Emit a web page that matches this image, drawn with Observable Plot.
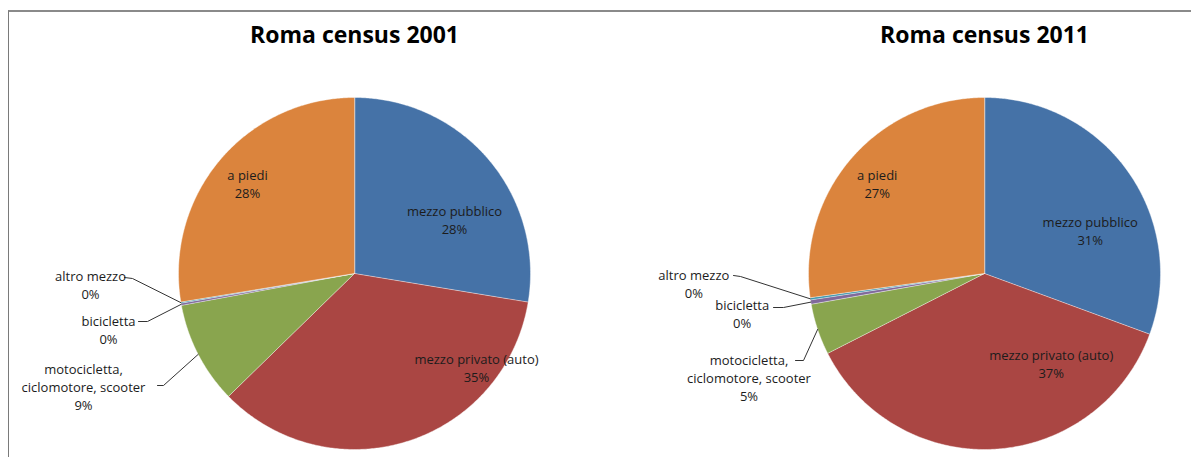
<!DOCTYPE html>
<html><head><meta charset="utf-8">
<script src="https://cdn.jsdelivr.net/npm/d3@7"></script>
<script src="https://cdn.jsdelivr.net/npm/@observablehq/plot@0.6"></script>
<style>
body{margin:0;background:#fff;}
#wrap{position:relative;width:1191px;height:457px;overflow:hidden;background:#fff;}
#box{position:absolute;left:8px;top:10px;width:1300px;height:600px;border-left:1px solid #7a7a7a;border-top:2px solid #8a8a8a;}
#chart{position:absolute;left:0;top:0;}
</style></head><body>
<div id="wrap"><div id="box"></div><div id="chart"></div></div>
<script>
// ---- data ----
const categories = ["mezzo pubblico","mezzo privato (auto)","motocicletta, ciclomotore, scooter","bicicletta","altro mezzo","a piedi"];
const labelNames = ["mezzo pubblico","mezzo privato (auto)","motocicletta,\nciclomotore, scooter","bicicletta","altro mezzo","a piedi"];
const years = ["2001","2011"];
const titles = ["Roma census 2001","Roma census 2011"];
const share2001 = [27.6,35.1,9.4,0.2,0.1,27.6];
const share2011 = [30.6,36.9,4.7,0.4,0.2,27.2];
const colors = ["#4572A7","#AA4643","#89A54E","#80699B","#3D96AE","#DB843D"];

// ---- layout (px relative to each pie centre) ----
const R = 176;
const centers = [0, 630];
const labelPos = {
  "2001": [[100,-54],[122,93.5],[-271,112.5],[-246,56],[-264,11],[-107,-90]],
  "2011": [[105.7,-43.5],[66.7,89.5],[-235.5,103.5],[-242.3,40],[-290.7,9.5],[-107.3,-90.2]]
};
const leaderPos = {
  "2001": {2: [[-197,112],[-191,112]], 3: [[-216,48],[-207,48]], 4: [[-230,4],[-222,5]]},
  "2011": {2: [[-189,87],[-181,87]], 3: [[-211,34],[-201,34]], 4: [[-251,2],[-244,3]]}
};

const slices = [], labels = [], leaders = [], heads = [];
years.forEach((yr, i) => {
  const vals = i ? share2011 : share2001;
  const cx = centers[i];
  const total = d3.sum(vals);
  let acc = 0;
  heads.push({x: cx, y: -237.5, text: titles[i]});
  vals.forEach((v, j) => {
    const a0 = acc / total * 2 * Math.PI, a1 = (acc + v) / total * 2 * Math.PI;
    acc += v;
    const id = yr + "-" + j;
    const n = Math.max(2, Math.ceil((a1 - a0) / (Math.PI / 360)));
    slices.push({id, cat: categories[j], x: cx, y: 0});
    for (let k = 0; k <= n; k++) {
      const a = a0 + (a1 - a0) * k / n;
      slices.push({id, cat: categories[j], x: cx + R * Math.sin(a), y: -R * Math.cos(a)});
    }
    const [lx, ly] = labelPos[yr][j];
    labels.push({x: cx + lx, y: ly, text: labelNames[j] + "\n" + Math.round(v) + "%"});
    const lp = leaderPos[yr][j];
    if (lp) {
      const mid = (a0 + a1) / 2;
      lp.forEach(p => leaders.push({id, x: cx + p[0], y: p[1]}));
      leaders.push({id, x: cx + R * Math.sin(mid), y: -R * Math.cos(mid)});
    }
  });
});

const chart = Plot.plot({
  width: 1191, height: 457,
  marginTop: 0, marginRight: 0, marginBottom: 0, marginLeft: 0,
  x: {domain: [-354, 837], axis: null},
  y: {domain: [184, -273], axis: null},
  color: {domain: categories, range: colors},
  style: {fontFamily: "'Open Sans', sans-serif", background: "transparent", overflow: "visible"},
  marks: [
    Plot.line(slices, {x: "x", y: "y", z: "id", fill: "cat", stroke: "#ffffff", strokeWidth: 0.6, strokeOpacity: 0.7, curve: "linear-closed"}),
    Plot.line(leaders, {x: "x", y: "y", z: "id", stroke: "#333", strokeWidth: 1}),
    Plot.text(labels, {x: "x", y: "y", text: "text", fontSize: 13, lineHeight: 1.38, fill: "#1c1c1c", textAnchor: "middle"}),
    Plot.text(heads, {x: "x", y: "y", text: "text", fontSize: 23, fontWeight: "bold", fill: "#000"})
  ]
});
document.getElementById("chart").appendChild(chart);
</script>
</body></html>
